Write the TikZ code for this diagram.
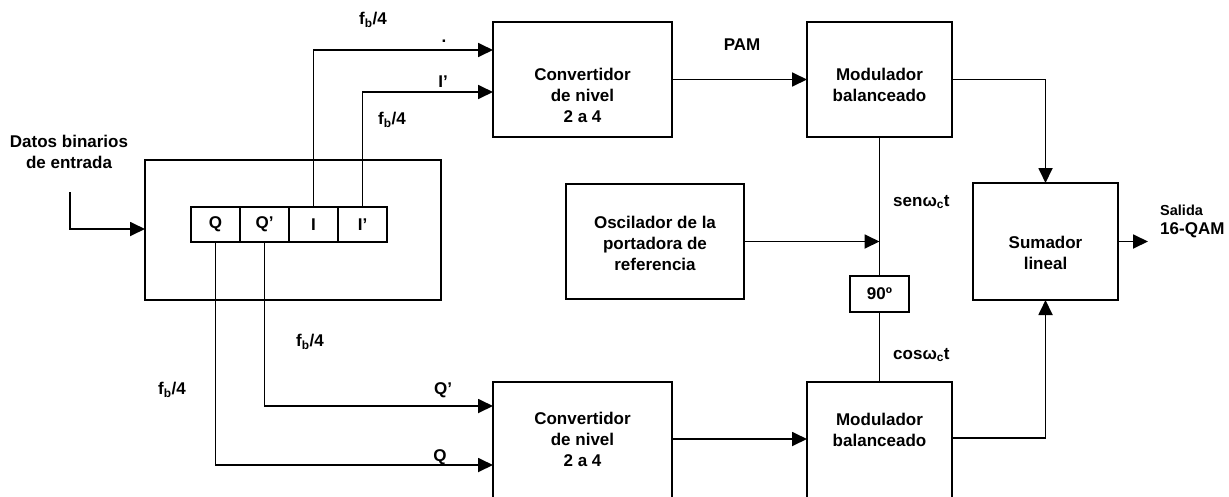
\documentclass[tikz,border=0pt]{standalone}
\usepackage{fontspec}
\setmainfont{Liberation Sans}
\usetikzlibrary{arrows.meta}
\tikzset{
  blk/.style={draw, line width=1.8pt, inner sep=0pt, outer sep=0pt, fill=white},
  txt/.style={font=\fontsize{17}{21}\selectfont\bfseries, align=center, inner sep=0pt},
  small/.style={font=\fontsize{14.5}{17}\selectfont\bfseries, inner sep=0pt},
  wire/.style={line width=1.8pt},
  arr/.style={wire, -{Triangle[length=15pt, width=14pt]}},
}
\begin{document}
\begin{tikzpicture}[x=1pt, y=-1pt]
\useasboundingbox (0,0) rectangle (1229,496);
\clip (0,0) rectangle (1229,496);

% shift register block
\node[blk, minimum width=296pt, minimum height=140pt] (reg) at (293,230) {};
\node[blk, minimum width=49pt, minimum height=35pt] (cQ)  at (215.5,224.5) {};
\node[blk, minimum width=49pt, minimum height=35pt] (cQp) at (264.5,224.5) {};
\node[blk, minimum width=49pt, minimum height=35pt] (cI)  at (313.5,224.5) {};
\node[blk, minimum width=49pt, minimum height=35pt] (cIp) at (362.5,224.5) {};
\node[txt] at (cQ)  {Q};
\node[txt] at (cQp) {Q’};
\node[txt] at (cI)  {I};
\node[txt] at (cIp) {I’};

% converters, modulators, oscillator, summer
\node[blk, minimum width=179pt, minimum height=115pt] (conv1) at (582.5,79.5) {};
\node[txt] at (582.5,95) {Convertidor\\de nivel\\2 a 4};
\node[blk, minimum width=179pt, minimum height=130pt] (conv2) at (582.5,447) {};
\node[txt] at (582.5,439.5) {Convertidor\\de nivel\\2 a 4};
\node[blk, minimum width=145pt, minimum height=115pt] (mod1) at (879.5,79.5) {};
\node[txt] at (879.5,85) {Modulador\\balanceado};
\node[blk, minimum width=145pt, minimum height=130pt] (mod2) at (879.5,447) {};
\node[txt] at (879.5,429.5) {Modulador\\balanceado};
\node[blk, minimum width=178pt, minimum height=115pt] (osc) at (655,241.5) {};
\node[txt] at (655,243) {Oscilador de la\\portadora de\\referencia};
\node[blk, minimum width=145pt, minimum height=117pt] (sum) at (1045.5,241.5) {};
\node[txt] at (1045.5,252.5) {Sumador\\lineal};
\node[blk, minimum width=59pt, minimum height=36pt] (ph) at (879.5,294) {};
\node[txt] at (ph) {90º};

% input
\node[txt] (datos) at (69,152) {Datos binarios\\de entrada};
\coordinate (din) at (70,192);
\draw[arr] (din) |- (reg.west |- 0,229);

% register outputs to the converters
\draw[arr] (cI.north)  |- (conv1.west |- 0,50);
\draw[arr] (cIp.north) |- (conv1.west |- 0,92);
\draw[arr] (cQp.south) |- (conv2.west |- 0,406);
\draw[arr] (cQ.south)  |- (conv2.west |- 0,465);

% converter to modulator
\draw[arr] (conv1.east) -- (mod1.west);
\draw[arr] (conv2.east |- 0,439) -- (mod2.west |- 0,439);

% carrier path
\draw[wire] (mod1.south) -- (ph.north);
\draw[wire] (ph.south) -- (mod2.north);
\draw[arr] (osc.east) -- (mod1.south |- osc.east);

% modulators to summer
\draw[arr] (mod1.east) -| (sum.north);
\draw[arr] (mod2.east |- 0,438) -| (sum.south);
\coordinate (out) at (1148,241.5);
\draw[arr] (sum.east) -- (out);

% labels
\node[txt] (l1) at (373,20) {f\textsubscript{b}/4};
\node[txt] (l2) at (444,41) {.};
\node[txt] (l3) at (443,82) {I’};
\node[txt] (l4) at (392,120) {f\textsubscript{b}/4};
\node[txt] (l5) at (310,342) {f\textsubscript{b}/4};
\node[txt] (l6) at (172,390) {f\textsubscript{b}/4};
\node[txt] (l7) at (443,390) {Q’};
\node[txt] (l8) at (440,457) {Q};
\node[txt] (l9) at (742,45) {PAM};
\node[txt, anchor=west] (l10) at (893,202) {senω\textsubscript{c}t};
\node[txt, anchor=west] (l11) at (893,355) {cosω\textsubscript{c}t};
\node[small, anchor=west] (l12) at (1160,210) {Salida};
\node[txt, anchor=west] (l13) at (1160,230) {16-QAM};
\end{tikzpicture}
\end{document}
